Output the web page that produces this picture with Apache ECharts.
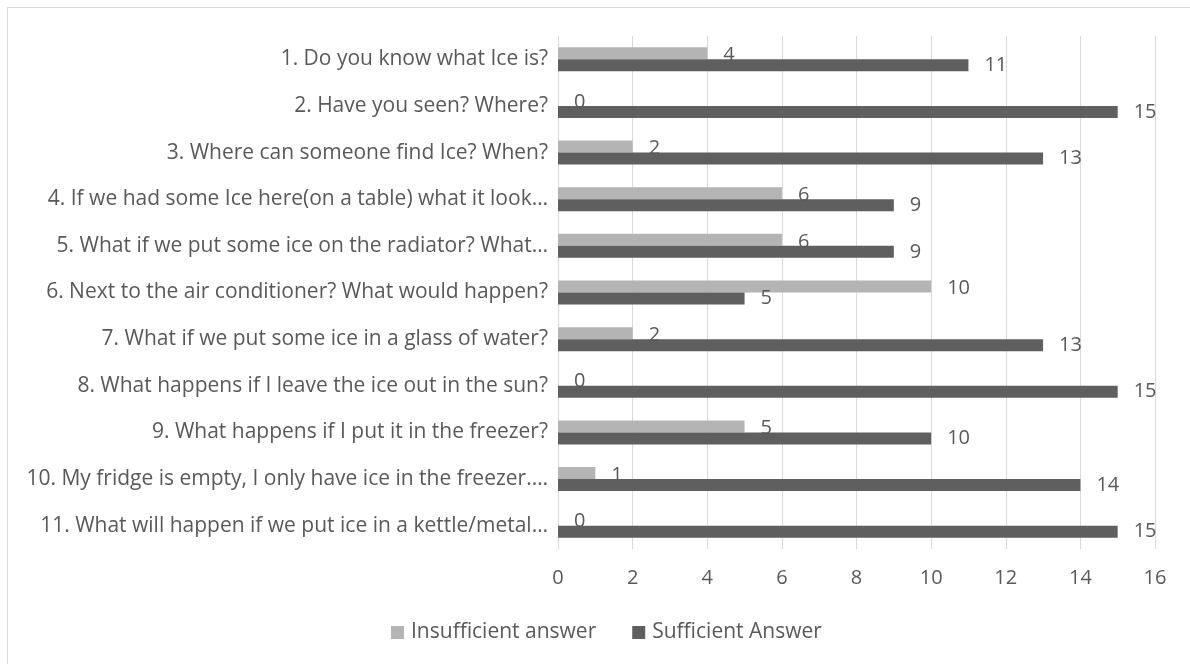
<!DOCTYPE html>
<html>
<head>
<meta charset="utf-8">
<script src="https://cdn.jsdelivr.net/npm/echarts@6/dist/echarts.min.js"></script>
<style>
  html, body { margin: 0; padding: 0; background: #fff; }
  #chart { width: 1190px; height: 664px; }
</style>
</head>
<body>
<div id="chart"></div>
<script>
  const questions = [
    '1. Do you know what Ice is?',
    '2. Have you seen? Where?',
    '3. Where can someone find Ice? When?',
    '4. If we had some Ice here(on a table) what it look…',
    '5. What if we put some ice on the radiator? What…',
    '6. Next to the air conditioner? What would happen?',
    '7. What if we put some ice in a glass of water?',
    '8. What happens if I leave the ice out in the sun?',
    '9. What happens if I put it in the freezer?',
    '10. My fridge is empty, I only have ice in the freezer.…',
    '11. What will happen if we put ice in a kettle/metal…'
  ]
  const insufficient = [4, 0, 2, 6, 6, 10, 2, 0, 5, 1, 0]
  const sufficient = [11, 15, 13, 9, 9, 5, 13, 15, 10, 14, 15]
  const xTicks = [0, 2, 4, 6, 8, 10, 12, 14, 16]

  const font = 'Open Sans'
  const textColor = '#595959'

  const chart = echarts.init(document.getElementById('chart'))
  chart.setOption({
    backgroundColor: '#fff',
    animation: false,
    textStyle: { fontFamily: font },
    // outer frame: only top and left edges show in the picture
    graphic: [{
      type: 'polyline',
      shape: { points: [[7.5, 664], [7.5, 7.5], [1190, 7.5]] },
      style: { fill: 'none', stroke: '#d9d9d9', lineWidth: 1 }
    }],
    grid: {
      left: 558,
      right: 35,
      top: 36,
      bottom: 115
    },
    legend: {
      bottom: 16,
      left: 386,
      itemWidth: 13,
      itemHeight: 13,
      itemGap: 36,
      icon: 'rect',
      textStyle: { color: textColor, fontSize: 21, fontFamily: font, padding: [0, 0, 0, 2] },
      data: ['Insufficient answer', 'Sufficient Answer']
    },
    xAxis: {
      type: 'value',
      min: xTicks[0],
      max: xTicks[xTicks.length - 1],
      interval: 2,
      axisLine: { show: false },
      axisTick: { show: false },
      splitLine: { lineStyle: { color: '#d9d9d9', width: 1 } },
      axisLabel: { color: textColor, fontSize: 20, margin: 19 }
    },
    yAxis: {
      type: 'category',
      inverse: true,
      data: questions,
      axisLine: { show: true, lineStyle: { color: '#d9d9d9' } },
      axisTick: { show: false },
      axisLabel: { color: textColor, fontSize: 21, margin: 10 }
    },
    series: [{
      name: 'Insufficient answer',
      type: 'bar',
      barWidth: 12,
      barGap: '0%',
      data: insufficient,
      itemStyle: { color: '#b4b4b4' },
      label: {
        show: true,
        position: 'right',
        distance: 16,
        offset: [0, 2],
        color: textColor,
        fontSize: 20
      }
    }, {
      name: 'Sufficient Answer',
      type: 'bar',
      barWidth: 12,
      barGap: '0%',
      data: sufficient,
      itemStyle: { color: '#5f5f5f' },
      label: {
        show: true,
        position: 'right',
        distance: 16,
        color: textColor,
        fontSize: 20
      }
    }]
  })
</script>
</body>
</html>
